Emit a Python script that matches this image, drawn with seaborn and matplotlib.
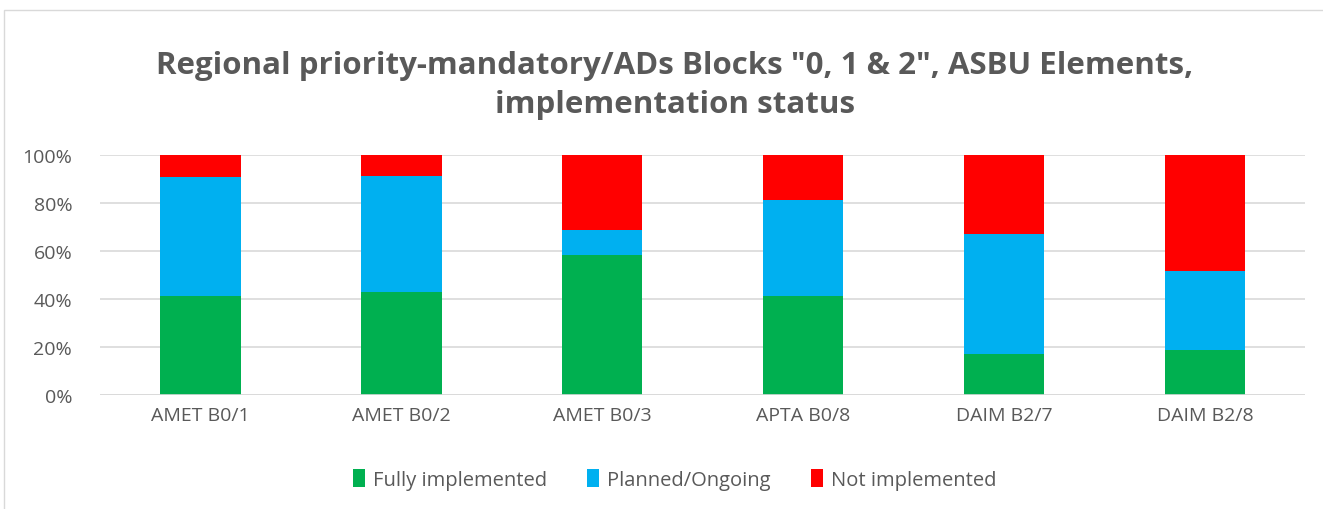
import numpy as np
import pandas as pd
import matplotlib.pyplot as plt
import seaborn as sns

categories = ["AMET B0/1", "AMET B0/2", "AMET B0/3", "APTA B0/8", "DAIM B2/7", "DAIM B2/8"]
fully = [41.4, 42.8, 58.4, 41.4, 17.1, 18.8]
planned = [49.4, 48.6, 10.4, 39.8, 49.9, 32.8]
not_impl = [9.2, 8.6, 31.2, 18.8, 33.0, 48.4]

df = pd.DataFrame({"element": categories, "fully": fully,
                   "planned": planned, "not_impl": not_impl})
df["cum_planned"] = df["fully"] + df["planned"]
df["cum_total"] = df["cum_planned"] + df["not_impl"]

sns.set_style("white")
plt.rcParams['font.family'] = ['Open Sans', 'DejaVu Sans']
grey = "#595959"

fig = plt.figure(figsize=(13.23, 5.1), dpi=100)
ax = fig.add_axes([0.0756, 0.224, 0.911, 0.47])

# stacked by drawing cumulative totals back to front
sns.barplot(data=df, x="element", y="cum_total", color="#FF0000", width=0.4,
            saturation=1, linewidth=0, ax=ax, label="Not implemented")
sns.barplot(data=df, x="element", y="cum_planned", color="#00B0F0", width=0.4,
            saturation=1, linewidth=0, ax=ax, label="Planned/Ongoing")
sns.barplot(data=df, x="element", y="fully", color="#00B050", width=0.4,
            saturation=1, linewidth=0, ax=ax, label="Fully implemented")

ax.set_ylim(0, 100)
ax.set_xlim(-0.5, 5.5)
ax.set_yticks(np.arange(0, 101, 20))
ax.set_yticklabels([f"{v}%" for v in range(0, 101, 20)])
ax.yaxis.grid(True, color="#D9D9D9", linewidth=1.2)
ax.set_axisbelow(True)
for s in ax.spines.values():
    s.set_visible(False)
ax.axhline(0, color="#D9D9D9", linewidth=1.2)
ax.tick_params(axis="both", length=0, labelsize=14, colors=grey, pad=8)
ax.tick_params(axis="y", pad=20)
ax.set_xlabel("")
ax.set_ylabel("")

handles, labels = ax.get_legend_handles_labels()
order = [2, 1, 0]
fig.legend([handles[i] for i in order], [labels[i] for i in order],
           loc="center", bbox_to_anchor=(0.51, 0.058), ncol=3, frameon=False,
           fontsize=14.5, labelcolor=grey, handlelength=0.6, handleheight=1.0,
           handletextpad=0.4, columnspacing=2.0)
if ax.get_legend():
    ax.get_legend().remove()

fig.suptitle('Regional priority-mandatory/ADs Blocks "0, 1 & 2", ASBU Elements,\nimplementation status',
             x=0.51, y=0.9, va="top", fontsize=22.5, fontweight="bold", color=grey,
             linespacing=1.4)

# outer chart border
fig.add_artist(plt.Rectangle((0.003, -0.01), 1.0, 0.988, transform=fig.transFigure,
                             fill=False, edgecolor="#D9D9D9", linewidth=1))

fig.savefig("out.png", dpi=100)
